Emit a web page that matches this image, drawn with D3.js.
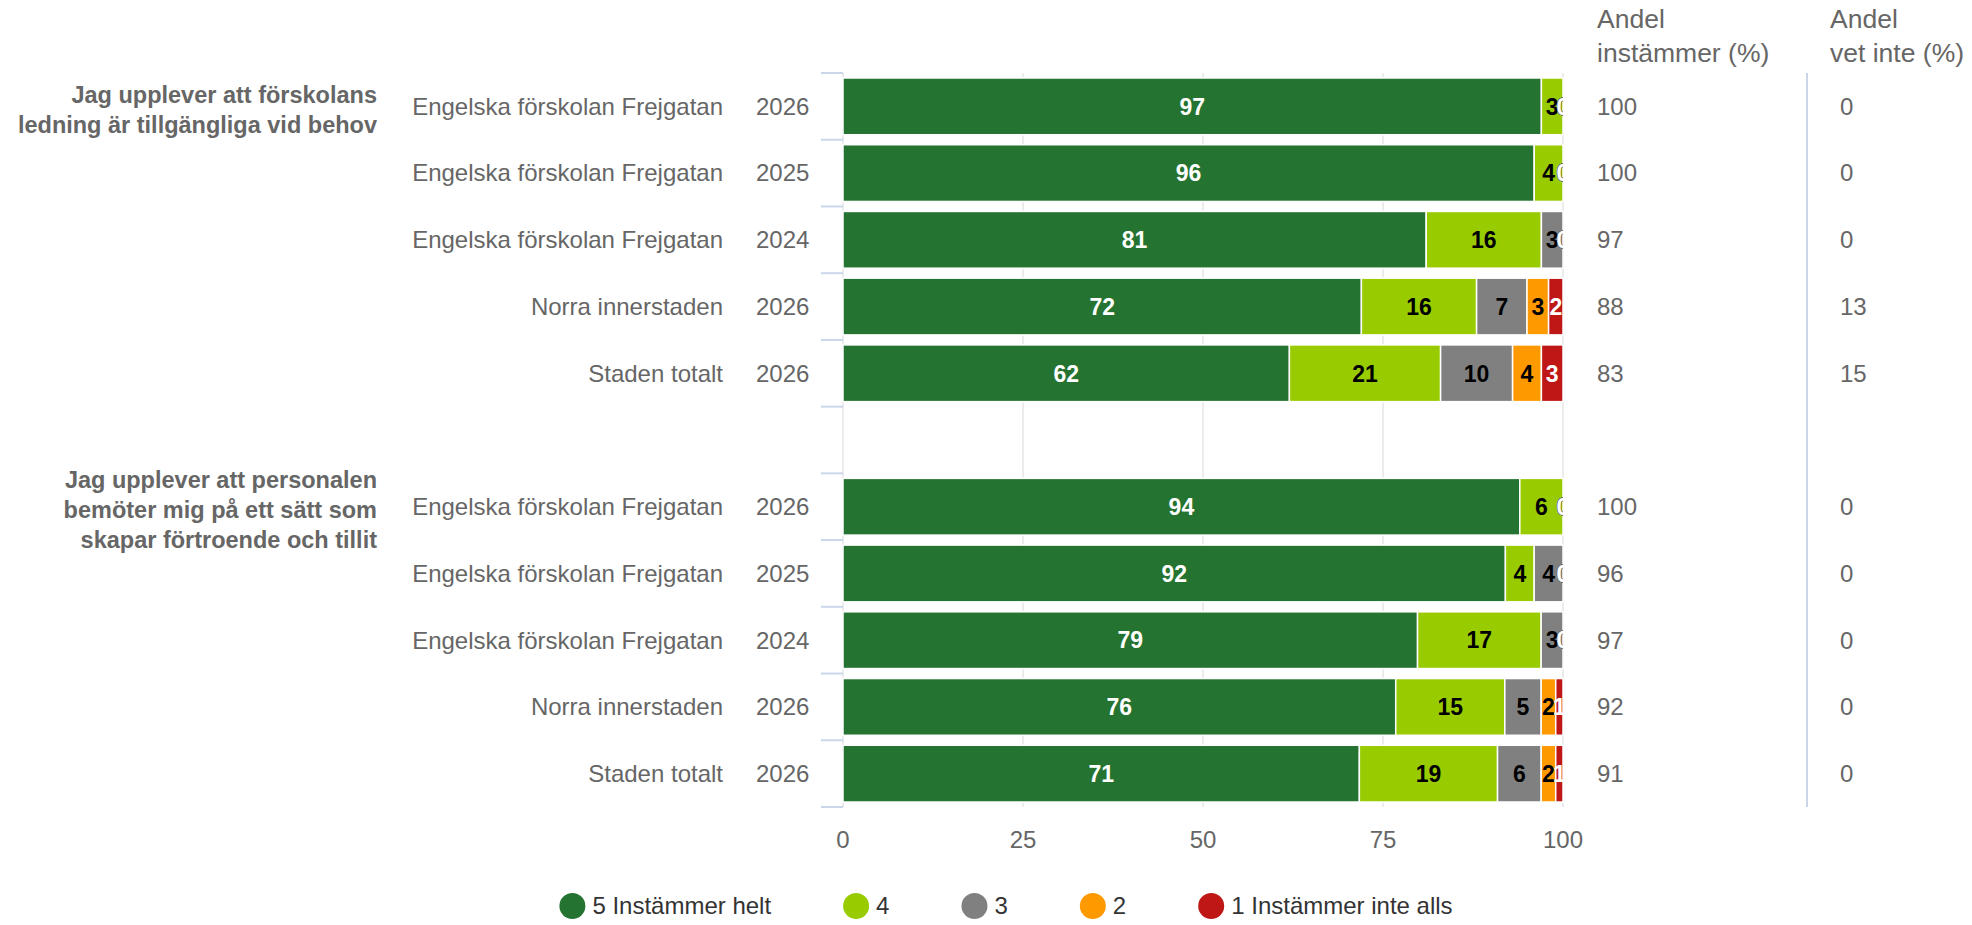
<!DOCTYPE html>
<html>
<head>
<meta charset="utf-8">
<script src="https://cdn.jsdelivr.net/npm/d3@7"></script>
<style>
body { margin: 0; background: #fff; }
text { font-family: "Liberation Sans", Arial, Helvetica, sans-serif; }
</style>
</head>
<body>
<svg id="chart" width="1972" height="925"></svg>
<script>
// question labels, already wrapped like in the original
var groupLines = [
  ["Jag upplever att förskolans", "ledning är tillgängliga vid behov"],
  ["Jag upplever att personalen", "bemöter mig på ett sätt som", "skapar förtroende och tillit"]
];
var groupFirstRow = [0, 6];

// one entry per row, row 5 is the empty spacer between the questions
var units = ["Engelska förskolan Frejgatan", "Engelska förskolan Frejgatan", "Engelska förskolan Frejgatan", "Norra innerstaden", "Staden totalt", "",
             "Engelska förskolan Frejgatan", "Engelska förskolan Frejgatan", "Engelska förskolan Frejgatan", "Norra innerstaden", "Staden totalt"];
var years = ["2026", "2025", "2024", "2026", "2026", "", "2026", "2025", "2024", "2026", "2026"];

var seriesNames = ["5 Instämmer helt", "4", "3", "2", "1 Instämmer inte alls"];
var seriesColors = ["#257330", "#99cc00", "#808080", "#ff9900", "#bf1616"];
var labelColors = ["#ffffff", "#000000", "#000000", "#000000", "#ffffff"];

var s5 = [97, 96, 81, 72, 62, null, 94, 92, 79, 76, 71];
var s4 = [3, 4, 16, 16, 21, null, 6, 4, 17, 15, 19];
var s3 = [0, 0, 3, 7, 10, null, 0, 4, 3, 5, 6];
var s2 = [0, 0, 0, 3, 4, null, 0, 0, 0, 2, 2];
var s1 = [0, 0, 0, 2, 3, null, 0, 0, 0, 1, 1];

var andelInstammer = [100, 100, 97, 88, 83, null, 100, 96, 97, 92, 91];
var andelVetInte = [0, 0, 0, 13, 15, null, 0, 0, 0, 0, 0];

var xTicks = [0, 25, 50, 75, 100];

var svg = d3.select("#chart");
var plotLeft = 843, plotRight = 1563, plotTop = 73, plotBottom = 807;

var rows = d3.range(units.length);
var x = d3.scaleLinear().domain([0, 100]).range([plotLeft, plotRight]);
var y = d3.scaleBand().domain(rows).range([plotTop, plotBottom]).padding(0);
var inset = 5;

// build stacked data, normalised to 100 like a percent stack
var keys = ["v5", "v4", "v3", "v2", "v1"];
var table = rows.filter(function(i){ return s5[i] !== null; }).map(function(i){
  return { row: i, v5: s5[i], v4: s4[i], v3: s3[i], v2: s2[i], v1: s1[i] };
});
var stacked = d3.stack().keys(keys).offset(d3.stackOffsetExpand)(table);

// grid lines
svg.append("g").selectAll("line")
  .data(xTicks)
  .enter().append("line")
  .attr("x1", function(d){ return x(d); })
  .attr("x2", function(d){ return x(d); })
  .attr("y1", plotTop)
  .attr("y2", plotBottom)
  .attr("stroke", "#e6e6e6")
  .attr("stroke-width", 1.5);

// y axis ticks at every band edge
var edges = rows.map(function(i){ return y(i); }).concat([plotBottom]);
svg.append("g").selectAll("line")
  .data(edges)
  .enter().append("line")
  .attr("x1", plotLeft - 22)
  .attr("x2", plotLeft)
  .attr("y1", function(d){ return d; })
  .attr("y2", function(d){ return d; })
  .attr("stroke", "#ccd6eb")
  .attr("stroke-width", 2);

// bars
var barG = svg.append("g");
stacked.forEach(function(layer, si){
  barG.append("g").selectAll("rect")
    .data(layer)
    .enter().append("rect")
    .attr("x", function(d){ return x(d[0] * 100); })
    .attr("width", function(d){ return Math.max(0, x(d[1] * 100) - x(d[0] * 100)); })
    .attr("y", function(d){ return y(d.data.row) + inset; })
    .attr("height", y.bandwidth() - inset * 2)
    .attr("fill", seriesColors[si])
    .attr("stroke", "#ffffff")
    .attr("stroke-width", 1.5);
});

// data labels, clipped to the plot area
svg.append("clipPath").attr("id", "plotClip")
  .append("rect")
  .attr("x", plotLeft).attr("y", plotTop)
  .attr("width", plotRight - plotLeft).attr("height", plotBottom - plotTop);

var labelG = svg.append("g").attr("clip-path", "url(#plotClip)");
stacked.forEach(function(layer, si){
  labelG.append("g").selectAll("text")
    .data(layer)
    .enter().append("text")
    .attr("x", function(d){ return x((d[0] + d[1]) / 2 * 100); })
    .attr("y", function(d){ return y(d.data.row) + y.bandwidth() / 2; })
    .attr("dy", "0.36em")
    .attr("text-anchor", "middle")
    .attr("font-size", "23px")
    .attr("font-weight", "bold")
    .attr("fill", function(d){ return d.data[keys[si]] === 0 ? "#ffffff" : labelColors[si]; })
    .attr("stroke", function(d){ return d.data[keys[si]] === 0 ? "#555555" : "none"; })
    .attr("stroke-width", 0.8)
    .attr("paint-order", "stroke")
    .text(function(d){ return d.data[keys[si]]; });
});

// category labels
var catG = svg.append("g").attr("font-size", "24px").attr("fill", "#666666");
catG.selectAll("text.unit")
  .data(rows.filter(function(i){ return units[i] !== ""; }))
  .enter().append("text")
  .attr("class", "unit")
  .attr("x", 723)
  .attr("y", function(i){ return y(i) + y.bandwidth() / 2; })
  .attr("dy", "0.35em")
  .attr("text-anchor", "end")
  .text(function(i){ return units[i]; });
catG.selectAll("text.year")
  .data(rows.filter(function(i){ return years[i] !== ""; }))
  .enter().append("text")
  .attr("class", "year")
  .attr("x", 756)
  .attr("y", function(i){ return y(i) + y.bandwidth() / 2; })
  .attr("dy", "0.35em")
  .text(function(i){ return years[i]; });

// question labels
groupLines.forEach(function(lines, gi){
  var cy = y(groupFirstRow[gi]) + y.bandwidth() / 2 + 3;
  var t = svg.append("text")
    .attr("text-anchor", "end")
    .attr("font-size", "23.5px")
    .attr("font-weight", "bold")
    .attr("fill", "#666666");
  lines.forEach(function(line, li){
    t.append("tspan")
      .attr("x", 377)
      .attr("y", cy + (li - (lines.length - 1) / 2) * 30)
      .attr("dy", "0.35em")
      .text(line);
  });
});

// x axis labels
svg.append("g").selectAll("text")
  .data(xTicks)
  .enter().append("text")
  .attr("x", function(d){ return x(d); })
  .attr("y", 840)
  .attr("dy", "0.35em")
  .attr("text-anchor", "middle")
  .attr("font-size", "24px")
  .attr("fill", "#666666")
  .text(function(d){ return d; });

// extra columns on the right
var col1 = 1597, col2 = 1840;
var headG = svg.append("g").attr("font-size", "26.5px").attr("fill", "#666666");
[["Andel", "instämmer (%)", col1], ["Andel", "vet inte (%)", col2 - 10]].forEach(function(h){
  headG.append("text").attr("x", h[2]).attr("y", 19).attr("dy", "0.35em").text(h[0]);
  headG.append("text").attr("x", h[2]).attr("y", 53).attr("dy", "0.35em").text(h[1]);
});

svg.append("line")
  .attr("x1", 1807).attr("x2", 1807)
  .attr("y1", plotTop).attr("y2", plotBottom)
  .attr("stroke", "#ccd6eb").attr("stroke-width", 2);

var valG = svg.append("g").attr("font-size", "24px").attr("fill", "#666666");
valG.selectAll("text.a")
  .data(rows.filter(function(i){ return andelInstammer[i] !== null; }))
  .enter().append("text")
  .attr("class", "a")
  .attr("x", col1)
  .attr("y", function(i){ return y(i) + y.bandwidth() / 2; })
  .attr("dy", "0.35em")
  .text(function(i){ return andelInstammer[i]; });
valG.selectAll("text.b")
  .data(rows.filter(function(i){ return andelVetInte[i] !== null; }))
  .enter().append("text")
  .attr("class", "b")
  .attr("x", col2)
  .attr("y", function(i){ return y(i) + y.bandwidth() / 2; })
  .attr("dy", "0.35em")
  .text(function(i){ return andelVetInte[i]; });

// legend
var legend = svg.append("g");
var items = legend.selectAll("g")
  .data(seriesNames)
  .enter().append("g");
items.append("circle")
  .attr("cx", 13).attr("cy", 0).attr("r", 13)
  .attr("fill", function(d, i){ return seriesColors[i]; });
items.append("text")
  .attr("x", 33).attr("y", 0).attr("dy", "0.35em")
  .attr("font-size", "24px")
  .attr("fill", "#333333")
  .text(function(d){ return d; });
var itemGap = 72, lx = 0;
items.each(function(){
  var g = d3.select(this);
  g.attr("transform", "translate(" + lx + ",0)");
  lx += 33 + g.select("text").node().getComputedTextLength() + itemGap;
});
var legendWidth = lx - itemGap;
legend.attr("transform", "translate(" + (1006 - legendWidth / 2) + ",906)");
</script>
</body>
</html>
